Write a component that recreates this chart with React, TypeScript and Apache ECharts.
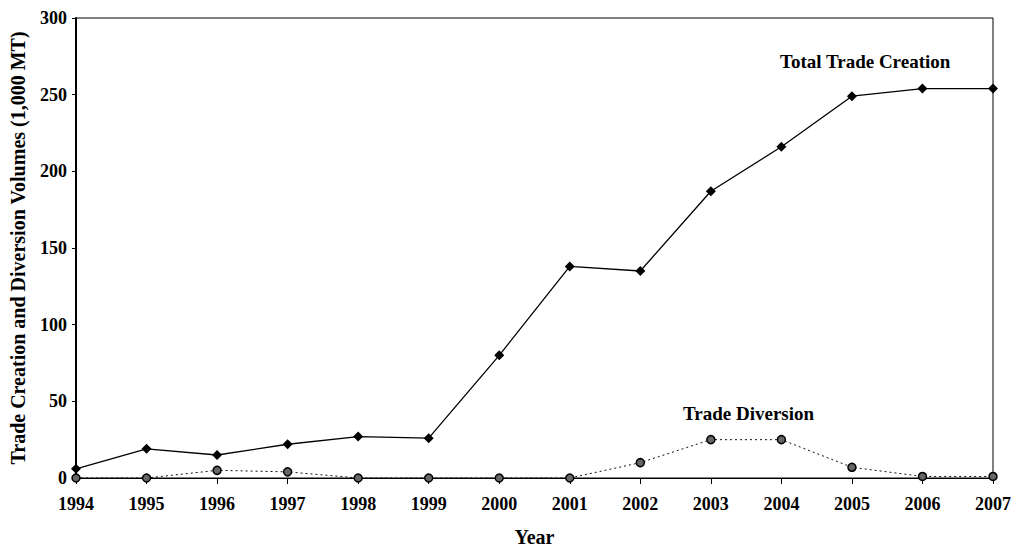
import React, { useEffect, useRef } from "react";
import * as echarts from "echarts";

const years = ["1994","1995","1996","1997","1998","1999","2000","2001","2002","2003","2004","2005","2006","2007"];
const tradeCreation = [6, 19, 15, 22, 27, 26, 80, 138, 135, 187, 216, 249, 254, 254];
const tradeDiversion = [0, 0, 5, 4, 0, 0, 0, 0, 10, 25, 25, 7, 1, 1];
const yTicks = { min: 0, max: 300, interval: 50 };

const FONT = "'Liberation Serif', 'DejaVu Serif', serif";

export default function App() {
  const ref = useRef<HTMLDivElement>(null);
  useEffect(() => {
    if (!ref.current) return;
    const chart = echarts.init(ref.current, null, { renderer: "svg" });
    chart.setOption({
      animation: false,
      backgroundColor: "#ffffff",
      grid: {
        left: 75,
        right: 27,
        top: 18,
        bottom: 70,
        show: true,
        borderColor: "#000",
        borderWidth: 1,
      },
      xAxis: {
        type: "category",
        data: years,
        boundaryGap: false,
        name: "Year",
        nameLocation: "middle",
        nameGap: 49,
        nameTextStyle: { fontFamily: FONT, fontWeight: "bold", fontSize: 20, color: "#000" },
        axisLine: { lineStyle: { color: "#000", width: 1.2 } },
        axisTick: { show: true, length: 6, alignWithLabel: true, lineStyle: { color: "#000" } },
        axisLabel: { fontFamily: FONT, fontWeight: "bold", fontSize: 18, color: "#000", margin: 17 },
        splitLine: { show: false },
      },
      yAxis: {
        type: "value",
        min: yTicks.min,
        max: yTicks.max,
        interval: yTicks.interval,
        name: "Trade Creation and Diversion Volumes (1,000 MT)",
        nameLocation: "middle",
        nameGap: 48,
        nameRotate: 90,
        nameTextStyle: { fontFamily: FONT, fontWeight: "bold", fontSize: 20, color: "#000" },
        axisLine: { show: true, lineStyle: { color: "#000", width: 2 } },
        axisTick: { show: true, length: 4, lineStyle: { color: "#000" } },
        axisLabel: { fontFamily: FONT, fontWeight: "bold", fontSize: 18, color: "#000", margin: 9 },
        splitLine: { show: false },
      },
      graphic: [
        {
          type: "text",
          left: 780,
          top: 52,
          style: { text: "Total Trade Creation", font: `bold 19px ${FONT}`, fill: "#000" },
        },
        {
          type: "text",
          left: 683,
          top: 404,
          style: { text: "Trade Diversion", font: `bold 19px ${FONT}`, fill: "#000" },
        },
      ],
      series: [
        {
          name: "Total Trade Creation",
          type: "line",
          data: tradeCreation,
          symbol: "diamond",
          symbolSize: 10,
          itemStyle: { color: "#000" },
          lineStyle: { color: "#000", width: 1.3 },
          z: 3,
        },
        {
          name: "Trade Diversion",
          type: "line",
          data: tradeDiversion,
          symbol: "circle",
          symbolSize: 8,
          itemStyle: { color: "#666", borderColor: "#000", borderWidth: 1.5 },
          lineStyle: { color: "#111", width: 1, type: [2, 3] },
          z: 4,
        },
      ],
    });
    return () => chart.dispose();
  }, []);
  return (
    <div
      ref={ref}
      style={{ position: "absolute", left: 0, top: 0, width: 1020, height: 552 }}
    />
  );
}
